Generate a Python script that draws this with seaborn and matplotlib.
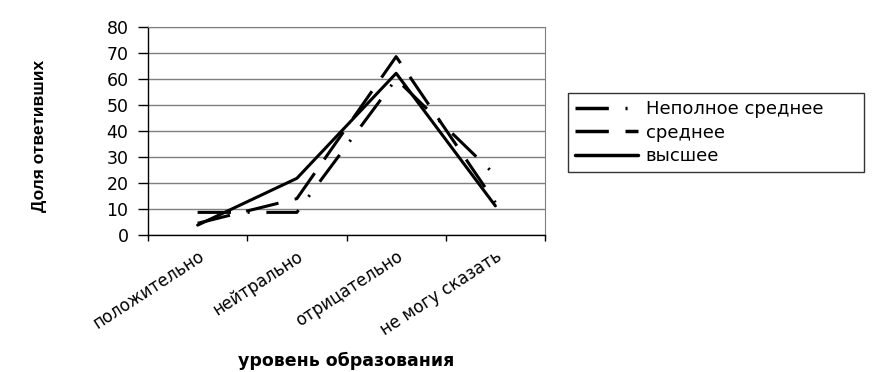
import pandas as pd
import numpy as np
import seaborn as sns
import matplotlib.pyplot as plt
from matplotlib.ticker import FixedLocator

# Data
categories = ['положительно', 'нейтрально', 'отрицательно', 'не могу сказать']
series_names = ['Неполное среднее', 'среднее', 'высшее']
nepolnoe = [8.7, 8.7, 60.0, 23.0]
srednee = [4.5, 14.0, 68.6, 12.5]
vysshee = [3.8, 21.8, 62.2, 11.2]

df = pd.DataFrame({
    'cat': categories * 3,
    'val': nepolnoe + srednee + vysshee,
    'series': np.repeat(series_names, len(categories)),
})

sns.set_style('white')
plt.rcParams['font.family'] = ['DejaVu Sans']
plt.rcParams['lines.scale_dashes'] = False
plt.rcParams['text.color'] = 'black'
plt.rcParams['xtick.color'] = 'black'
plt.rcParams['ytick.color'] = 'black'
plt.rcParams['axes.labelcolor'] = 'black'

fig = plt.figure(figsize=(8.75, 3.72), dpi=100)
ax = fig.add_axes([148 / 875, 1 - 235 / 372, (545 - 148) / 875, (235 - 27) / 372])

dashes = {
    'Неполное среднее': (24, 12, 1.5, 12),
    'среднее': (24, 12),
    'высшее': '',
}
sns.lineplot(data=df, x='cat', y='val', hue='series', style='series',
             palette=['black'] * 3, dashes=dashes, linewidth=2.2,
             sort=False, ax=ax, legend=True)

ax.set_ylim(0, 80)
ax.set_xlim(-0.5, 3.5)
ax.set_yticks(range(0, 81, 10))
ax.yaxis.grid(True, color='#7f7f7f', linewidth=1)
ax.set_axisbelow(True)

ax.set_xticks(range(len(categories)))
ax.set_xticklabels(categories, rotation=33, ha='right', rotation_mode='anchor', fontsize=12)
ax.xaxis.set_minor_locator(FixedLocator(np.arange(-0.5, 4, 1)))
ax.tick_params(axis='x', which='major', length=0, pad=9)
ax.tick_params(axis='x', which='minor', length=4, width=1, color='black', direction='out', bottom=True)
ax.tick_params(axis='y', length=7, width=1, color='black', direction='out', left=True, labelsize=12.5, pad=7)

for side in ['left', 'bottom']:
    ax.spines[side].set_color('black')
    ax.spines[side].set_linewidth(1)
ax.spines['right'].set_color('#7f7f7f')
ax.spines['top'].set_color('#7f7f7f')

ax.set_xlabel('')
ax.set_ylabel('')
fig.text(346 / 875, 1 - 361 / 372, 'уровень образования', ha='center', va='center',
         fontsize=12.5, fontweight='bold')
fig.text(40 / 875, 1 - 136 / 372, 'Доля ответивших', rotation=90, ha='center', va='center',
         fontsize=12.5, fontweight='bold',
         family=['Liberation Sans Narrow', 'Liberation Sans', 'DejaVu Sans'])

leg = ax.legend(loc='upper left', bbox_to_anchor=(568 / 875, 1 - 171 / 372, 296 / 875, 78 / 372),
                bbox_transform=fig.transFigure, mode='expand', frameon=True, fancybox=False,
                fontsize=13, handlelength=3.5, handletextpad=0.4, labelspacing=0.3,
                borderaxespad=0, borderpad=0.4)
leg.get_frame().set_edgecolor('black')
leg.get_frame().set_linewidth(1)
for line in leg.get_lines():
    line.set_linewidth(2.5)

fig.savefig('out.png', dpi=100)
